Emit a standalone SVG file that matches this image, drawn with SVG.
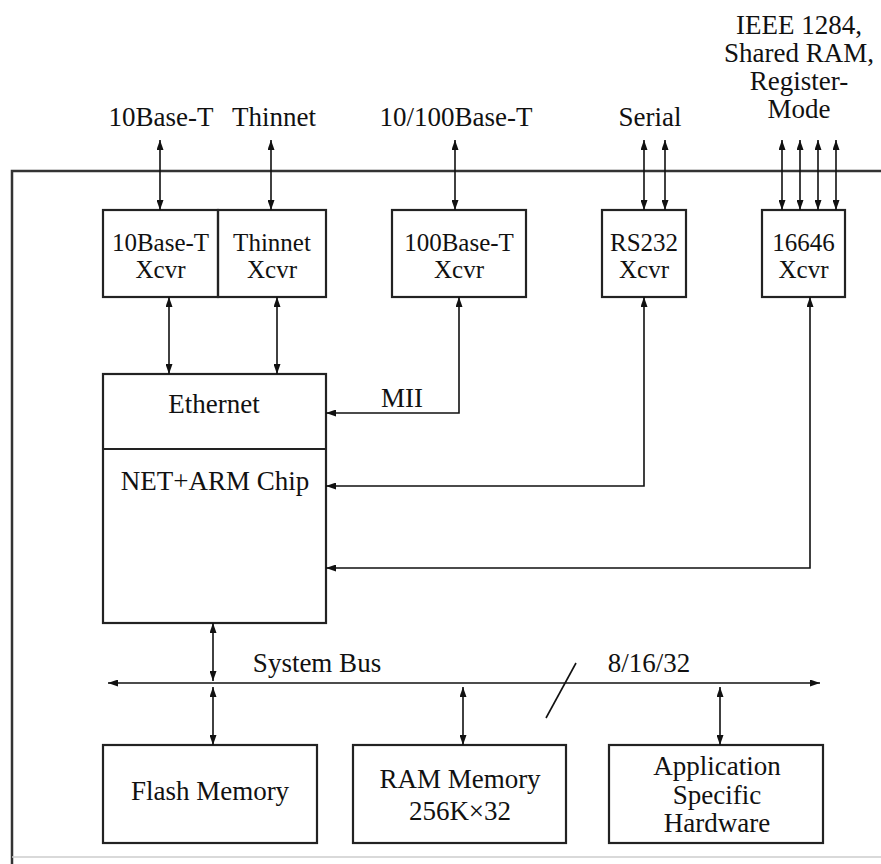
<svg xmlns="http://www.w3.org/2000/svg" width="881" height="864" viewBox="0 0 881 864">
<defs>
<marker id="ah" viewBox="0 0 10 7" refX="10" refY="3.5" markerWidth="10" markerHeight="7" markerUnits="userSpaceOnUse" orient="auto-start-reverse">
<path d="M0,0 L10,3.5 L0,7 z" fill="#111"/>
</marker>
<style>
text{font-family:"Liberation Serif","Times New Roman",serif;font-size:27px;fill:#111;text-anchor:middle}
text.x{font-size:25px}
.box{fill:none;stroke:#222;stroke-width:2.2}
.frame{fill:none;stroke:#333;stroke-width:2.5}
.c{fill:none;stroke:#111;stroke-width:1.6;marker-start:url(#ah);marker-end:url(#ah)}
.p{fill:none;stroke:#111;stroke-width:1.6}
</style>
</defs>
<rect width="881" height="864" fill="#fff"/>
<g id="frame">
<path class="frame" d="M881,171 H12 V864"/>
<line x1="12" y1="857" x2="881" y2="857" stroke="#ccc" stroke-width="1.5"/>
</g>
<g id="labels-top">
<text x="161" y="126">10Base-T</text>
<text x="274" y="126">Thinnet</text>
<text x="456" y="126">10/100Base-T</text>
<text x="650" y="126">Serial</text>
<text x="799" y="34">IEEE 1284,</text>
<text x="799" y="62">Shared RAM,</text>
<text x="799" y="90">Register-</text>
<text x="799" y="118">Mode</text>
</g>
<g id="xcvr-10baset">
<rect class="box" x="103" y="210" width="115" height="87"/>
<text class="x" x="160.5" y="251">10Base-T</text>
<text class="x" x="160.5" y="278">Xcvr</text>
</g>
<g id="xcvr-thinnet">
<rect class="box" x="218" y="210" width="108" height="87"/>
<text class="x" x="272" y="251">Thinnet</text>
<text class="x" x="272" y="278">Xcvr</text>
</g>
<g id="xcvr-100baset">
<rect class="box" x="392" y="210" width="134" height="87"/>
<text class="x" x="459" y="251">100Base-T</text>
<text class="x" x="459" y="278">Xcvr</text>
</g>
<g id="xcvr-rs232">
<rect class="box" x="602" y="210" width="84" height="87"/>
<text class="x" x="644" y="251">RS232</text>
<text class="x" x="644" y="278">Xcvr</text>
</g>
<g id="xcvr-16646">
<rect class="box" x="762" y="210" width="83" height="87"/>
<text class="x" x="803.5" y="251">16646</text>
<text class="x" x="803.5" y="278">Xcvr</text>
</g>
<g id="netarm">
<rect class="box" x="103" y="374" width="223" height="249"/>
<line class="box" x1="103" y1="449" x2="326" y2="449"/>
<text x="214" y="413">Ethernet</text>
<text x="215" y="490">NET+ARM Chip</text>
</g>
<g id="flash">
<rect class="box" x="103" y="745" width="214" height="98"/>
<text x="210" y="800">Flash Memory</text>
</g>
<g id="ram">
<rect class="box" x="353" y="745" width="213" height="98"/>
<text x="460" y="788">RAM Memory</text>
<text x="460" y="820">256K×32</text>
</g>
<g id="asic">
<rect class="box" x="609" y="745" width="214" height="98"/>
<text x="717" y="775">Application</text>
<text x="717" y="804">Specific</text>
<text x="717" y="832">Hardware</text>
</g>
<g id="connectors">
<line class="c" x1="160" y1="140" x2="160" y2="210"/>
<line class="c" x1="271" y1="140" x2="271" y2="210"/>
<line class="c" x1="455" y1="140" x2="455" y2="210"/>
<line class="c" x1="644" y1="140" x2="644" y2="210"/>
<line class="c" x1="665" y1="140" x2="665" y2="210"/>
<line class="c" x1="782" y1="140" x2="782" y2="210"/>
<line class="c" x1="800" y1="140" x2="800" y2="210"/>
<line class="c" x1="818" y1="140" x2="818" y2="210"/>
<line class="c" x1="836" y1="140" x2="836" y2="210"/>
<line class="c" x1="169" y1="297" x2="169" y2="374"/>
<line class="c" x1="277" y1="297" x2="277" y2="374"/>
<path class="c" d="M459,297 V413 H326"/>
<path class="c" d="M644,297 V486 H326"/>
<path class="c" d="M810,297 V568 H326"/>
<line class="c" x1="213" y1="623" x2="213" y2="681"/>
<line class="c" x1="108" y1="683" x2="820" y2="683"/>
<line class="c" x1="213" y1="687" x2="213" y2="745"/>
<line class="c" x1="463" y1="687" x2="463" y2="745"/>
<line class="c" x1="720" y1="687" x2="720" y2="745"/>
<line class="p" x1="576" y1="663" x2="546" y2="718"/>
<text x="402" y="407">MII</text>
<text x="317" y="672">System Bus</text>
<text x="649" y="672">8/16/32</text>
</g>
</svg>
